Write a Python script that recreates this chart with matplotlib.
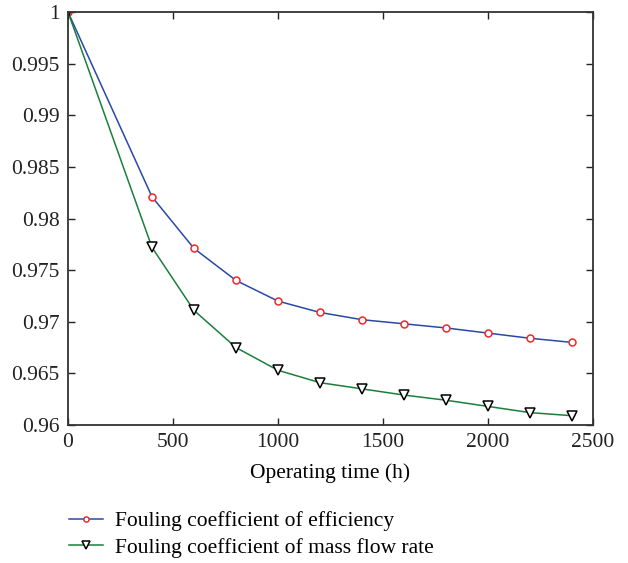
import numpy as np
import matplotlib.pyplot as plt

plt.rcParams['font.family'] = ['Liberation Serif', 'DejaVu Serif']

# Operating time (h)
hours = [0, 400, 600, 800, 1000, 1200, 1400, 1600, 1800, 2000, 2200, 2400]
# fouling coefficients
eff = [1.0, 0.9821, 0.9771, 0.9740, 0.9720, 0.9709, 0.9702, 0.9698,
       0.9694, 0.9689, 0.9684, 0.9680]
mass = [1.0, 0.9772, 0.9711, 0.9675, 0.9653, 0.9641, 0.9635, 0.9629,
        0.9624, 0.9618, 0.9612, 0.9609]

xticks = [0, 500, 1000, 1500, 2000, 2500]
yticks = [0.96, 0.965, 0.97, 0.975, 0.98, 0.985, 0.99, 0.995, 1.0]
ytick_labels = ['0.96', '0.965', '0.97', '0.975', '0.98', '0.985', '0.99', '0.995', '1']

fs = 15.5

fig = plt.figure(figsize=(6.28, 5.63), dpi=100)
ax = fig.add_axes([68 / 628, 1 - 425 / 563, 525 / 628, 413 / 563])

l1, = ax.plot(hours, eff, color='#2a48a8', lw=1.1, marker='o', ms=5,
              mfc='white', mec='#ee2a2a', mew=1.1,
              label='Fouling coefficient of efficiency')
l2, = ax.plot(hours, mass, color='#1b7f3c', lw=1.1, marker='v', ms=7,
              mfc='white', mec='black', mew=1.1,
              label='Fouling coefficient of mass flow rate')

ax.set_xlim(0, 2500)
ax.set_ylim(0.96, 1.0)
ax.set_xticks(xticks)
ax.set_xticklabels([str(t) for t in xticks])
ax.set_yticks(yticks)
ax.set_yticklabels(ytick_labels)
ax.tick_params(direction='in', top=True, right=True, length=5, width=1,
               labelsize=fs, pad=6, colors='#222222')
for s in ax.spines.values():
    s.set_linewidth(1.3)
    s.set_color('#333333')

ax.set_xlabel('Operating time (h)', fontsize=fs, labelpad=8)

fig.legend(handles=[l1, l2], loc='upper left',
           bbox_to_anchor=(69 / 628, 1 - 511 / 563),
           frameon=False, fontsize=fs, handlelength=1.6, markerscale=0.75,
           handletextpad=0.55, labelspacing=0.3, borderaxespad=0,
           borderpad=0)

fig.savefig('out.png', dpi=100)
